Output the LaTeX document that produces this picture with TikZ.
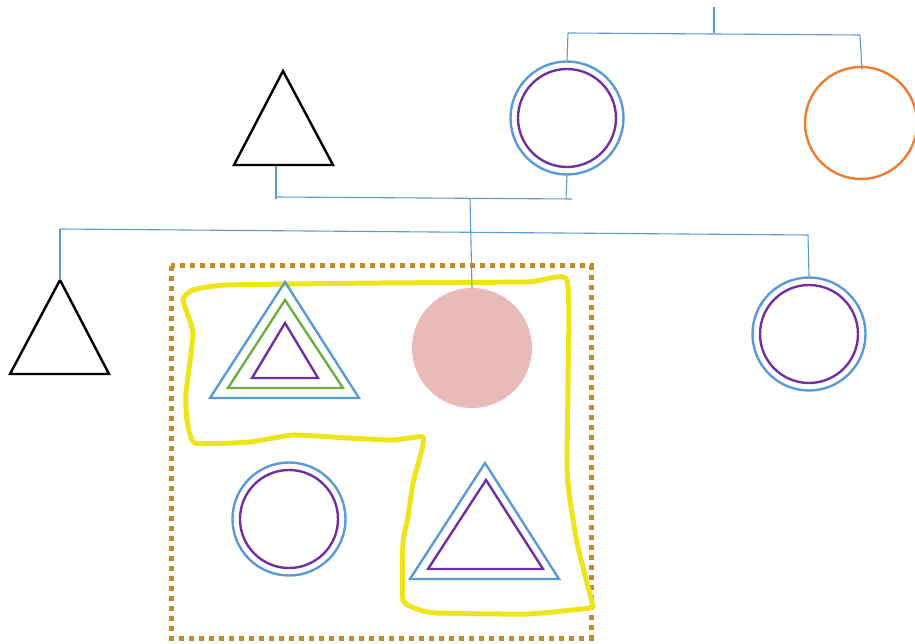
\documentclass[tikz,border=0pt]{standalone}
\definecolor{lblue}{RGB}{91,155,213}
\definecolor{lpurple}{RGB}{112,48,160}
\definecolor{lgreen}{RGB}{112,173,71}
\definecolor{lorange}{RGB}{237,125,49}
\definecolor{lbrown}{RGB}{192,140,40}
\definecolor{lyellow}{RGB}{238,228,26}
\definecolor{lpink}{RGB}{232,186,186}
\tikzset{
  conn/.style={draw=lblue,line width=1.1pt},
  outerc/.style={circle,draw=lblue,line width=2.4pt,minimum size=113pt,inner sep=0pt},
  innerc/.style={circle,draw=lpurple,line width=2.4pt,minimum size=98pt,inner sep=0pt},
  orangec/.style={circle,draw=lorange,line width=2.4pt,minimum size=112pt,inner sep=0pt},
  pinkc/.style={circle,fill=lpink,minimum size=120pt,inner sep=0pt},
  tri/.style={line width=2.4pt,line join=miter},
  frame/.style={draw=lbrown,line width=5pt,dash pattern=on 5pt off 5pt},
  loop/.style={draw=lyellow,line width=5pt,line join=round,line cap=round},
}
\begin{document}
\begin{tikzpicture}[x=1pt,y=-1pt]
\useasboundingbox (0,0) rectangle (915,644);

% frame and loop
\draw[frame] (171,266) rectangle (591,638);
\draw[loop] plot[smooth cycle,tension=0.3] coordinates {
 (193,290) (227,285) (380,283) (527,282) (567,280) (568,383) (567,467) (570,500)
 (577,543) (587,583) (592,603) (590,608) (527,614) (437,613) (420,610) (403,600)
 (403,543) (408,517) (413,483) (420,457) (423,437) (393,440) (347,438) (293,435)
 (250,442) (195,443) (187,420) (186,393) (193,333) (183,300)};

% circles
\node[outerc] (c1) at (567,118) {};
\node[innerc] (c1i) at (567,118) {};
\node[orangec] (oc) at (861,123) {};
\node[outerc] (rc) at (809,334) {};
\node[innerc] (rci) at (809,334) {};
\node[pinkc] (pk) at (472,348) {};
\node[outerc] (lc) at (289,519) {};
\node[innerc] (lci) at (289,519) {};

% triangles
\coordinate (t1a) at (283,71);
\draw[tri,black] (t1a) -- (333,165) -- (234,165) -- cycle;
\coordinate (t2a) at (60,280);
\draw[tri,black] (t2a) -- (109,374) -- (10,374) -- cycle;
\draw[tri,lblue] (285,282) -- (359,398) -- (210,398) -- cycle;
\draw[tri,lgreen] (285,300) -- (343,388) -- (228,388) -- cycle;
\draw[tri,lpurple] (285,323) -- (318,378) -- (252,378) -- cycle;
\draw[tri,lblue] (485,463) -- (559,579) -- (410,579) -- cycle;
\draw[tri,lpurple] (486,480) -- (543,569) -- (428,569) -- cycle;

% connectors
\coordinate (r0) at (714,7);
\coordinate (r1) at (714,33);
\coordinate (hl) at (568,33);
\coordinate (hr) at (860,35);
\draw[conn] (r0) -- (r1);
\draw[conn] (hl) -- (hr);
\draw[conn] (hl) -- (c1.north);
\draw[conn] (hr) -- (862,70);

\coordinate (b0) at (276,166);
\coordinate (b1) at (276,199);
\coordinate (m0) at (276,197);
\coordinate (m1) at (572,199);
\coordinate (m2) at (566,198);
\coordinate (m3) at (470,198);
\draw[conn] (b0) -- (b1);
\draw[conn] (m0) -- (m1);
\draw[conn] (c1.south) -- (m2);
\draw[conn] (m3) -- (pk.north);

\coordinate (g0) at (60,229);
\coordinate (g1) at (808,235);
\draw[conn] (g0) -- (g1);
\draw[conn] (g0) -- (t2a);
\draw[conn] (g1) -- (rc.north);
\end{tikzpicture}
\end{document}
